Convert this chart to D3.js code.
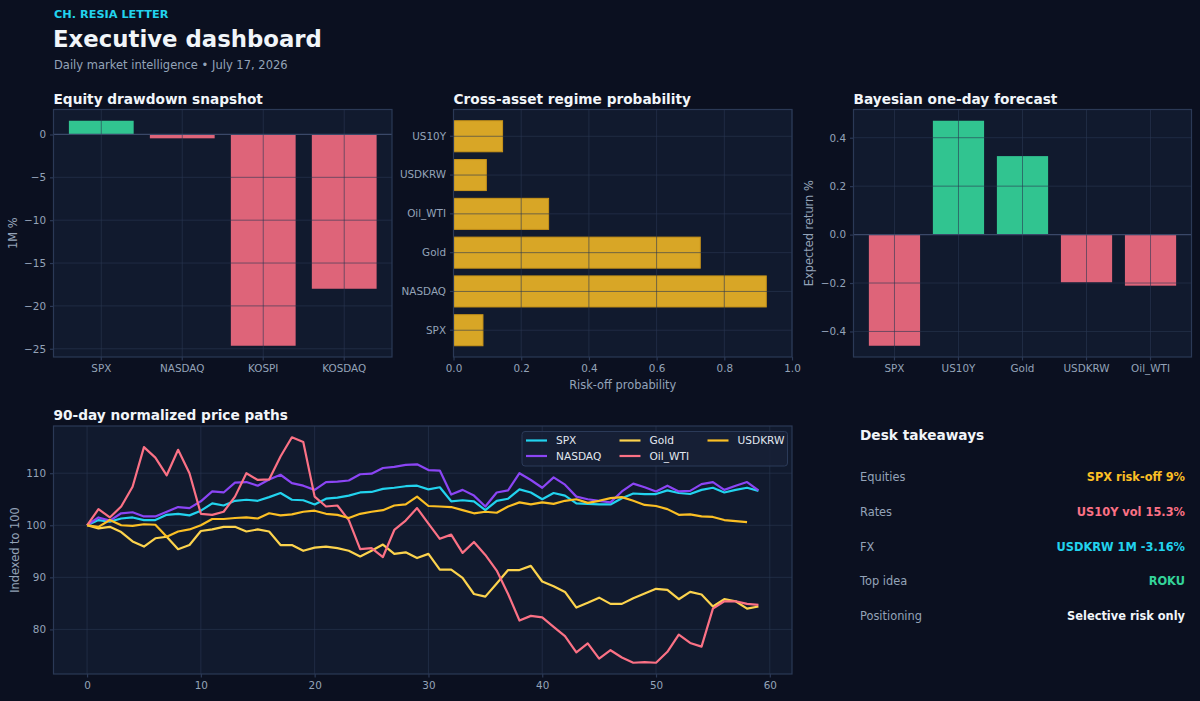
<!DOCTYPE html>
<html lang="en">
<head>
<meta charset="utf-8">
<title>Executive dashboard</title>
<script src="https://cdn.jsdelivr.net/npm/d3@7"></script>
<style>
  html, body { margin: 0; padding: 0; background: #0b1020; }
  svg { display: block; font-family: "DejaVu Sans", sans-serif; }
</style>
</head>
<body>
<script>

// ---- data ----
var equityNames = ["SPX", "NASDAQ", "KOSPI", "KOSDAQ"];
var equityReturns = [1.6, -0.45, -24.65, -18.0];

var regimeAssets = ["SPX", "NASDAQ", "Gold", "Oil_WTI", "USDKRW", "US10Y"];
var regimeProb = [0.087, 0.924, 0.729, 0.281, 0.097, 0.145];

var forecastAssets = ["SPX", "US10Y", "Gold", "USDKRW", "Oil_WTI"];
var forecastReturns = [-0.459, 0.470, 0.324, -0.197, -0.211];

var seriesNames = ["SPX", "NASDAQ", "Gold", "Oil_WTI", "USDKRW"];
var pathSPX = [100, 101.0, 100.7, 101.3, 101.5, 101.0, 101.0, 102.0, 102.2, 101.9,
    102.8, 104.2, 103.8, 104.7, 104.9, 104.7, 105.4, 106.2, 104.9, 104.8,
    104.0, 105.1, 105.3, 105.7, 106.3, 106.4, 107.0, 107.2, 107.5, 107.6,
    106.9, 107.3, 104.6, 104.8, 104.6, 102.9, 104.7, 105.1, 106.9, 106.3,
    105.0, 106.2, 105.7, 104.2, 104.1, 104.0, 104.0, 105.2, 106.1, 106.0,
    106.0, 106.7, 106.2, 106.0, 106.8, 107.2, 106.3, 106.8, 107.2, 106.6];
var pathNASDAQ = [100, 101.5, 100.9, 102.3, 102.5, 101.7, 101.7, 102.6, 103.5, 103.3,
    104.6, 106.5, 106.3, 108.2, 108.3, 107.6, 108.8, 109.7, 108.1, 107.6,
    106.8, 108.3, 108.4, 108.6, 109.8, 109.9, 111.0, 111.2, 111.6, 111.7,
    110.6, 110.5, 105.9, 106.8, 105.7, 103.6, 106.3, 106.7, 110.0, 108.7,
    107.2, 109.2, 107.8, 105.5, 105.0, 104.7, 104.4, 106.5, 108.0, 107.3,
    106.5, 107.6, 106.5, 106.6, 107.9, 108.3, 106.8, 107.6, 108.3, 106.7];
var pathGold = [100, 99.4, 99.7, 98.7, 96.9, 95.9, 97.5, 97.8, 95.4, 96.2,
    98.9, 99.2, 99.7, 99.7, 98.8, 99.2, 98.8, 96.2, 96.2, 95.1,
    95.7, 95.9, 95.6, 95.1, 94.0, 95.1, 96.3, 94.5, 94.8, 93.7,
    94.5, 91.5, 91.5, 89.9, 86.8, 86.3, 88.8, 91.4, 91.4, 92.2,
    89.2, 88.3, 87.2, 84.2, 85.1, 86.1, 84.9, 84.9, 86.0, 86.9,
    87.8, 87.6, 85.8, 87.2, 86.7, 84.4, 85.8, 85.4, 84.0, 84.4];
var pathOil = [100, 103.1, 101.5, 103.6, 107.4, 115.0, 113.0, 109.6, 114.5, 110.0,
    102.2, 102.0, 102.6, 105.5, 110.0, 108.7, 108.8, 113.2, 116.9, 116.0,
    105.5, 103.6, 103.8, 101.0, 95.4, 95.6, 93.9, 99.1, 100.9, 103.3,
    100.3, 97.4, 98.2, 94.7, 96.8, 94.3, 91.3, 86.8, 81.7, 82.6,
    82.3, 80.5, 78.7, 75.6, 77.3, 74.4, 76.0, 74.6, 73.6, 73.7,
    73.6, 75.7, 79.0, 77.4, 76.7, 84.0, 85.4, 85.4, 84.9, 84.7];
var pathUSDKRW = [100, 99.7, 101.0, 100.0, 99.9, 100.2, 100.1, 97.8, 98.8, 99.2,
    100.0, 101.2, 101.2, 101.4, 101.5, 101.3, 102.3, 101.9, 102.1, 102.6,
    102.8, 102.2, 102.0, 101.4, 102.2, 102.6, 102.9, 103.8, 104.0, 105.5,
    103.7, 103.6, 103.5, 102.9, 102.3, 102.6, 102.4, 103.6, 104.4, 104.0,
    104.4, 104.1, 104.7, 105.0, 104.3, 104.7, 105.2, 105.4, 104.7, 103.9,
    103.7, 103.1, 102.0, 102.1, 101.7, 101.6, 101.0, 100.8, 100.6];
var seriesColors = ["#22d3ee", "#8b45f5", "#fcd34d", "#fb7185", "#fbbf24"];

var takeawayLabels = ["Equities", "Rates", "FX", "Top idea", "Positioning"];
var takeawayValues = ["SPX risk-off 9%", "US10Y vol 15.3%", "USDKRW 1M -3.16%", "ROKU", "Selective risk only"];
var takeawayColors = ["#fbbf24", "#fb7185", "#22d3ee", "#34d399", "#f1f5f9"];

// ---- styling ----
var w = 1200, h = 701;
var faceColor = "#111a2e";
var spineColor = "#2b3956";
var gridColor = "#2a3752";
var tickColor = "#94a3b8";
var up = "#34d399", down = "#f06a80";
var tickSize = "10.4px", labelSize = "11.4px", titleSize = "13.7px";

var svg = d3.select("body").append("svg")
    .attr("width", w)
    .attr("height", h);

svg.append("rect").attr("width", w).attr("height", h).attr("fill", "#0b1020");

// header
svg.append("text").text("CH. RESIA LETTER")
    .attr("x", 54).attr("y", 18)
    .attr("font-size", "11.3px").attr("font-weight", "bold").attr("fill", "#22d3ee");
svg.append("text").text("Executive dashboard")
    .attr("x", 53).attr("y", 47)
    .attr("font-size", "22.8px").attr("font-weight", "bold").attr("fill", "#f1f5f9");
svg.append("text").text("Daily market intelligence \u2022 July 17, 2026")
    .attr("x", 54).attr("y", 69)
    .attr("font-size", "11.5px").attr("fill", "#94a3b8");

// helper: a panel with face and title
function panel(box, title) {
    var g = svg.append("g");
    g.append("rect")
        .attr("x", box.x0).attr("y", box.y0)
        .attr("width", box.x1 - box.x0).attr("height", box.y1 - box.y0)
        .attr("fill", faceColor);
    svg.append("text").text(title)
        .attr("x", box.x0).attr("y", box.y0 - 6)
        .attr("font-size", titleSize).attr("font-weight", "bold").attr("fill", "#f1f5f9");
    return g;
}

function frame(box) {
    svg.append("rect")
        .attr("x", box.x0).attr("y", box.y0)
        .attr("width", box.x1 - box.x0).attr("height", box.y1 - box.y0)
        .attr("fill", "none").attr("stroke", spineColor).attr("stroke-width", 1.2);
}

function styleAxis(sel) {
    sel.select(".domain").remove();
    sel.selectAll(".tick line").attr("stroke", spineColor).attr("stroke-width", 1.2);
    sel.selectAll(".tick text").attr("fill", tickColor).attr("font-size", tickSize)
        .attr("font-family", "DejaVu Sans, sans-serif");
}

function gridX(g, scale, vals, box) {
    g.selectAll(null).data(vals).enter().append("line")
        .attr("x1", function(d) { return scale(d); })
        .attr("x2", function(d) { return scale(d); })
        .attr("y1", box.y0).attr("y2", box.y1)
        .attr("stroke", gridColor).attr("stroke-opacity", 0.6).attr("stroke-width", 1);
}
function gridY(g, scale, vals, box) {
    g.selectAll(null).data(vals).enter().append("line")
        .attr("y1", function(d) { return scale(d); })
        .attr("y2", function(d) { return scale(d); })
        .attr("x1", box.x0).attr("x2", box.x1)
        .attr("stroke", gridColor).attr("stroke-opacity", 0.6).attr("stroke-width", 1);
}

function padded(lo, hi) {
    var m = (hi - lo) * 0.05;
    return [lo - m, hi + m];
}

function yLabel(text, x, box) {
    svg.append("text").text(text)
        .attr("transform", "translate(" + x + "," + ((box.y0 + box.y1) / 2) + ") rotate(-90)")
        .attr("text-anchor", "middle").attr("dy", "0.35em")
        .attr("font-size", labelSize).attr("fill", tickColor);
}

// ---- chart 1: equity drawdown ----
var b1 = {x0: 53.5, x1: 392, y0: 109.5, y1: 357};
var g1 = panel(b1, "Equity drawdown snapshot");
var x1 = d3.scaleBand().domain(equityNames).range([b1.x0, b1.x1])
    .paddingInner(0.2).paddingOuter(0.05 * (equityNames.length - 0.2));
var y1 = d3.scaleLinear()
    .domain(padded(d3.min(equityReturns.concat([0])), d3.max(equityReturns.concat([0]))))
    .range([b1.y1, b1.y0]);
var y1ticks = [-25, -20, -15, -10, -5, 0];

g1.selectAll("rect.bar").data(equityReturns).enter().append("rect")
    .attr("class", "bar")
    .attr("x", function(d, i) { return x1(equityNames[i]); })
    .attr("width", x1.bandwidth())
    .attr("y", function(d) { return y1(Math.max(d, 0)); })
    .attr("height", function(d) { return Math.abs(y1(d) - y1(0)); })
    .attr("fill", function(d) { return d >= 0 ? up : down; })
    .attr("fill-opacity", 0.92);
gridX(g1, function(d) { return x1(d) + x1.bandwidth() / 2; }, equityNames, b1);
gridY(g1, y1, y1ticks, b1);
g1.append("line").attr("x1", b1.x0).attr("x2", b1.x1)
    .attr("y1", y1(0)).attr("y2", y1(0))
    .attr("stroke", "#3a4868").attr("stroke-width", 1.2);
frame(b1);
svg.append("g").attr("transform", "translate(0," + b1.y1 + ")")
    .call(d3.axisBottom(x1).tickSize(3.5).tickPadding(4)).call(styleAxis);
svg.append("g").attr("transform", "translate(" + b1.x0 + ",0)")
    .call(d3.axisLeft(y1).tickValues(y1ticks).tickFormat(d3.format("d")).tickSize(3.5).tickPadding(4))
    .call(styleAxis);
yLabel("1M %", 13, b1);

// ---- chart 2: regime probability ----
var b2 = {x0: 453.5, x1: 792, y0: 109.5, y1: 357};
var g2 = panel(b2, "Cross-asset regime probability");
var x2 = d3.scaleLinear().domain([0, 1]).range([b2.x0, b2.x1]);
var y2 = d3.scaleBand().domain(regimeAssets).range([b2.y1, b2.y0])
    .paddingInner(0.2).paddingOuter(0.05 * (regimeAssets.length - 0.2));
var x2ticks = [0, 0.2, 0.4, 0.6, 0.8, 1.0];

g2.selectAll("rect.bar").data(regimeProb).enter().append("rect")
    .attr("class", "bar")
    .attr("x", x2(0))
    .attr("y", function(d, i) { return y2(regimeAssets[i]); })
    .attr("height", y2.bandwidth())
    .attr("width", function(d) { return x2(d) - x2(0); })
    .attr("fill", "#fbbf24").attr("fill-opacity", 0.85)
    .attr("stroke", "#c99419").attr("stroke-width", 1);
gridX(g2, x2, x2ticks, b2);
gridY(g2, function(d) { return y2(d) + y2.bandwidth() / 2; }, regimeAssets, b2);
frame(b2);
svg.append("g").attr("transform", "translate(0," + b2.y1 + ")")
    .call(d3.axisBottom(x2).tickValues(x2ticks).tickFormat(d3.format(".1f")).tickSize(3.5).tickPadding(4))
    .call(styleAxis);
svg.append("g").attr("transform", "translate(" + b2.x0 + ",0)")
    .call(d3.axisLeft(y2).tickSize(3.5).tickPadding(4)).call(styleAxis);
svg.append("text").text("Risk-off probability")
    .attr("x", (b2.x0 + b2.x1) / 2).attr("y", 389)
    .attr("text-anchor", "middle").attr("font-size", labelSize).attr("fill", tickColor);

// ---- chart 3: bayesian forecast ----
var b3 = {x0: 853.5, x1: 1191.5, y0: 109.5, y1: 357};
var g3 = panel(b3, "Bayesian one-day forecast");
var x3 = d3.scaleBand().domain(forecastAssets).range([b3.x0, b3.x1])
    .paddingInner(0.2).paddingOuter(0.05 * (forecastAssets.length - 0.2));
var y3 = d3.scaleLinear()
    .domain(padded(d3.min(forecastReturns), d3.max(forecastReturns)))
    .range([b3.y1, b3.y0]);
var y3ticks = [-0.4, -0.2, 0, 0.2, 0.4];

g3.selectAll("rect.bar").data(forecastReturns).enter().append("rect")
    .attr("class", "bar")
    .attr("x", function(d, i) { return x3(forecastAssets[i]); })
    .attr("width", x3.bandwidth())
    .attr("y", function(d) { return y3(Math.max(d, 0)); })
    .attr("height", function(d) { return Math.abs(y3(d) - y3(0)); })
    .attr("fill", function(d) { return d >= 0 ? up : down; })
    .attr("fill-opacity", 0.92);
gridX(g3, function(d) { return x3(d) + x3.bandwidth() / 2; }, forecastAssets, b3);
gridY(g3, y3, y3ticks, b3);
g3.append("line").attr("x1", b3.x0).attr("x2", b3.x1)
    .attr("y1", y3(0)).attr("y2", y3(0))
    .attr("stroke", "#3a4868").attr("stroke-width", 1.2);
frame(b3);
svg.append("g").attr("transform", "translate(0," + b3.y1 + ")")
    .call(d3.axisBottom(x3).tickSize(3.5).tickPadding(4)).call(styleAxis);
svg.append("g").attr("transform", "translate(" + b3.x0 + ",0)")
    .call(d3.axisLeft(y3).tickValues(y3ticks).tickFormat(d3.format(".1f")).tickSize(3.5).tickPadding(4))
    .call(styleAxis);
yLabel("Expected return %", 809, b3);

// ---- chart 4: price paths ----
var b4 = {x0: 53.5, x1: 792, y0: 426, y1: 674};
var g4 = panel(b4, "90-day normalized price paths");
var paths = [pathSPX, pathNASDAQ, pathGold, pathOil, pathUSDKRW];
var allVals = d3.merge(paths);
var maxLen = d3.max(paths, function(p) { return p.length; });
var x4 = d3.scaleLinear().domain(padded(0, maxLen - 1)).range([b4.x0, b4.x1]);
var y4 = d3.scaleLinear().domain(padded(d3.min(allVals), d3.max(allVals))).range([b4.y1, b4.y0]);
var x4ticks = [0, 10, 20, 30, 40, 50, 60];
var y4ticks = [80, 90, 100, 110];

gridX(g4, x4, x4ticks, b4);
gridY(g4, y4, y4ticks, b4);

var line = d3.line()
    .x(function(d, i) { return x4(i); })
    .y(function(d) { return y4(d); });

g4.selectAll("path.series").data(paths).enter().append("path")
    .attr("class", "series")
    .attr("d", line)
    .attr("fill", "none")
    .attr("stroke", function(d, i) { return seriesColors[i]; })
    .attr("stroke-width", 2.2)
    .attr("stroke-linejoin", "round");
frame(b4);
svg.append("g").attr("transform", "translate(0," + b4.y1 + ")")
    .call(d3.axisBottom(x4).tickValues(x4ticks).tickFormat(d3.format("d")).tickSize(3.5).tickPadding(4))
    .call(styleAxis);
svg.append("g").attr("transform", "translate(" + b4.x0 + ",0)")
    .call(d3.axisLeft(y4).tickValues(y4ticks).tickFormat(d3.format("d")).tickSize(3.5).tickPadding(4))
    .call(styleAxis);
yLabel("Indexed to 100", 15, b4);

// legend, 3 columns filled column by column
var legend = svg.append("g");
legend.append("rect")
    .attr("x", 522).attr("y", 431.5).attr("width", 265.5).attr("height", 34.5)
    .attr("rx", 3).attr("fill", "#172036").attr("fill-opacity", 0.9)
    .attr("stroke", "#2b3a58").attr("stroke-width", 1);
var colX = [526, 619.5, 707.5];
var rowY = [440.5, 456];
var items = legend.selectAll("g.item").data(seriesNames).enter().append("g")
    .attr("class", "item")
    .attr("transform", function(d, i) {
        return "translate(" + colX[Math.floor(i / 2)] + "," + rowY[i % 2] + ")";
    });
items.append("line").attr("x1", 0).attr("x2", 21)
    .attr("stroke", function(d, i) { return seriesColors[i]; })
    .attr("stroke-width", 2.2);
items.append("text").text(function(d) { return d; })
    .attr("x", 30).attr("dy", "0.36em")
    .attr("font-size", "10.6px").attr("fill", "#e2e8f0");

// ---- desk takeaways ----
svg.append("text").text("Desk takeaways")
    .attr("x", 860).attr("y", 440)
    .attr("font-size", titleSize).attr("font-weight", "bold").attr("fill", "#f1f5f9");
var rows = svg.selectAll("g.row").data(takeawayLabels).enter().append("g")
    .attr("class", "row")
    .attr("transform", function(d, i) { return "translate(0," + (481 + i * 34.8) + ")"; });
rows.append("text").text(function(d) { return d; })
    .attr("x", 860).attr("font-size", labelSize).attr("fill", "#94a3b8");
rows.append("text").text(function(d, i) { return takeawayValues[i]; })
    .attr("x", 1185).attr("text-anchor", "end")
    .attr("font-size", labelSize).attr("font-weight", "bold")
    .attr("fill", function(d, i) { return takeawayColors[i]; });

</script>
</body>
</html>
